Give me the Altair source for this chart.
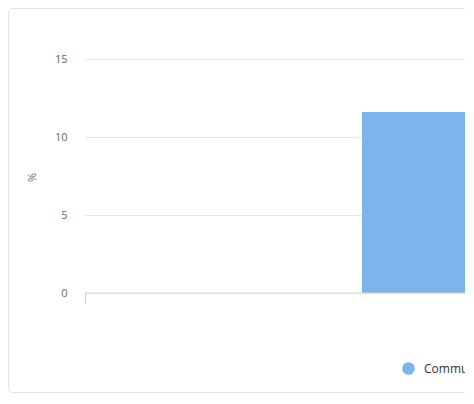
import altair as alt
import pandas as pd

categories = ["Community"]
series = ["Community"]
values = [11.6]
y_ticks = [0, 5, 10, 15]

df = pd.DataFrame({"category": categories, "series": series, "value": values})
frame_df = pd.DataFrame({"k": [0]})

FONT = "Open Sans"
W, H = 380, 234

bars = alt.Chart(df).mark_bar(clip=True).encode(
    x=alt.X("category:N", axis=None,
            scale=alt.Scale(range=[0, 831], paddingInner=0, paddingOuter=1)),
    y=alt.Y("value:Q",
            scale=alt.Scale(domain=[0, 15], nice=False),
            axis=alt.Axis(values=y_ticks, title="%", grid=True, gridColor="#e6e6e6",
                          domain=False, ticks=False, labelColor="#666666",
                          labelFontSize=11, labelFont=FONT, labelPadding=18,
                          titleColor="#666666", titleFontSize=11, titleFont=FONT,
                          titleFontWeight="normal", titleAngle=-90,
                          titleX=-53, titleY=118, titleAlign="center",
                          titleBaseline="middle")),
    color=alt.Color("series:N", scale=alt.Scale(range=["#7cb5ec"]),
                    legend=alt.Legend(title=None, orient="none", legendX=317,
                                      legendY=303, symbolType="circle",
                                      symbolSize=160, symbolStrokeWidth=0,
                                      labelOffset=9,
                                      labelFontSize=12, labelColor="#333333",
                                      labelFont=FONT)),
)

zero_line = alt.Chart(frame_df).mark_rule(color="#d8d8d8", strokeWidth=1).encode(
    y=alt.datum(0)
)

tick = alt.Chart(frame_df).mark_rule(color="#cccccc", strokeWidth=1).encode(
    x=alt.value(0.5), y=alt.value(H), y2=alt.value(H + 10)
)

frame = alt.Chart(frame_df).mark_rect(
    fillOpacity=0, stroke="#e3e3e3", strokeWidth=1, cornerRadius=4, clip=False
).encode(
    x=alt.value(-76.5), x2=alt.value(W + 20),
    y=alt.value(-50.5), y2=alt.value(H + 99.5)
)

chart = alt.layer(frame, bars, zero_line, tick).properties(
    width=W, height=H,
    autosize=alt.AutoSizeParams(type="none"),
    padding={"left": 77, "top": 51, "right": 0, "bottom": 100},
    background="white",
).configure_view(strokeWidth=0)

chart.save("out.html", embed_options={"renderer": "svg", "actions": False})
